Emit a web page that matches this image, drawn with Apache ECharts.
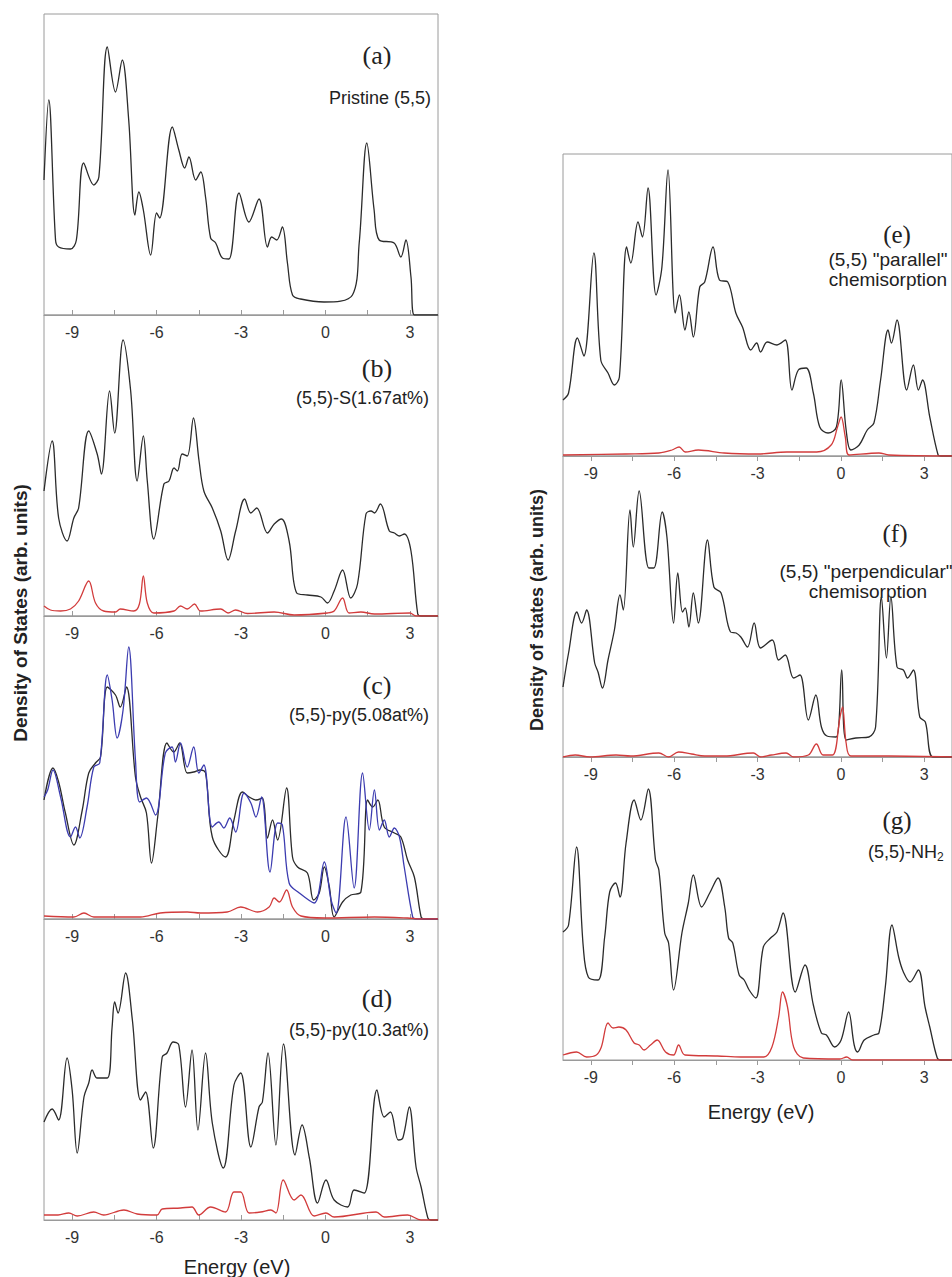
<!DOCTYPE html>
<html>
<head>
<meta charset="utf-8">
<script src="https://cdn.jsdelivr.net/npm/echarts@6/dist/echarts.min.js"></script>
<style>
html,body{margin:0;padding:0;background:#fff;}
#chart{width:952px;height:1277px;}
</style>
</head>
<body>
<div id="chart"></div>
<script>
// ---------- tick values ----------
const xMin = -10, xMax = 4;
const tickValues = [-9, -7.5, -6, -4.5, -3, -1.5, 0, 1.5, 3];
const labelValues = [-9, -6, -3, 0, 3];

// ---------- panel (a) Pristine ----------
const aBlack = [[-10,135],[-9.83,215],[-9.59,75],[-9.48,68],[-9.06,66],[-8.85,75],[-8.59,152],[-8.23,130],[-8.05,138],[-7.75,268],[-7.46,223],[-7.22,255],[-6.99,195],[-6.77,100],[-6.63,123],[-6.47,105],[-6.21,60],[-6.0,102],[-5.89,97],[-5.44,188],[-5.21,165],[-5.0,147],[-4.85,158],[-4.61,135],[-4.43,143],[-4.26,118],[-4.08,77],[-3.9,72],[-3.66,57],[-3.43,56],[-3.07,122],[-2.72,93],[-2.36,116],[-2.06,68],[-1.91,78],[-1.73,75],[-1.53,88],[-1.35,52],[-1.17,20],[-0.88,16],[-0.05,13],[0.96,20],[1.2,72],[1.47,172],[1.73,105],[1.91,75],[2.44,72],[2.68,58],[2.86,75],[3.04,38],[3.16,0],[4,0]];

// ---------- panel (b) S 1.67at% ----------
const bBlack = [[-10,125],[-9.71,175],[-9.48,98],[-9.18,75],[-8.94,98],[-8.77,108],[-8.41,185],[-8.11,162],[-7.96,142],[-7.67,225],[-7.49,183],[-7.19,276],[-6.92,225],[-6.69,135],[-6.47,180],[-6.33,135],[-6.1,77],[-5.74,132],[-5.56,135],[-5.38,148],[-5.26,145],[-5.09,162],[-4.91,160],[-4.69,198],[-4.49,155],[-4.32,125],[-4.02,108],[-3.72,85],[-3.46,56],[-3.19,85],[-2.87,117],[-2.65,103],[-2.44,108],[-2.06,83],[-1.82,92],[-1.56,97],[-1.29,75],[-1.02,23],[-0.64,21],[-0.16,19],[0.07,13],[0.31,25],[0.61,46],[0.9,18],[1.14,32],[1.44,102],[1.62,105],[1.74,103],[1.95,112],[2.27,85],[2.45,83],[2.63,80],[2.8,82],[3.04,65],[3.28,2],[3.4,0],[4,0]];
const bRed = [[-10,10],[-9.77,6],[-9.41,5],[-9.06,7],[-8.77,15],[-8.41,35],[-8.17,13],[-7.88,5],[-7.46,4],[-7.29,7],[-6.81,5],[-6.61,12],[-6.47,40],[-6.33,13],[-6.1,3],[-5.38,5],[-5.15,10],[-4.91,7],[-4.65,12],[-4.44,5],[-3.72,7],[-3.46,3],[-3.19,6],[-2.77,2.5],[-1.82,4],[-1.11,1],[0.07,3],[0.31,5],[0.61,18],[0.84,3],[1.26,4],[1.74,2],[3.0,3],[3.22,0],[4,0]];

// ---------- panel (c) py 5.08at% ----------
const cBlack = [[-10,119],[-9.68,151],[-9.48,137],[-9.24,106],[-8.94,74],[-8.64,109],[-8.41,146],[-8.17,156],[-7.99,162],[-7.75,232],[-7.46,224],[-7.29,212],[-7.07,232],[-6.75,142],[-6.57,122],[-6.36,106],[-6.18,56],[-5.96,102],[-5.63,176],[-5.39,167],[-5.18,176],[-4.91,146],[-4.68,147],[-4.46,149],[-4.26,146],[-4.02,82],[-3.55,62],[-3.25,99],[-2.95,127],[-2.71,122],[-2.47,119],[-2.24,121],[-2.06,81],[-1.88,99],[-1.70,79],[-1.38,131],[-1.17,62],[-0.99,52],[-0.64,46],[-0.42,19],[-0.22,26],[-0.04,52],[0.14,32],[0.31,2],[0.61,17],[0.9,24],[1.26,27],[1.5,119],[1.68,112],[1.86,119],[2.09,92],[2.45,86],[2.68,82],[2.92,59],[3.16,42],[3.4,2],[3.5,0],[4,0]];
const cBlue = [[-10,122],[-9.87,129],[-9.68,149],[-9.41,122],[-9.06,82],[-8.88,92],[-8.73,81],[-8.47,112],[-8.23,152],[-8.02,156],[-7.75,244],[-7.58,219],[-7.40,181],[-7.19,209],[-6.99,272],[-6.75,159],[-6.60,117],[-6.36,121],[-6.04,104],[-5.69,166],[-5.45,172],[-5.33,157],[-5.15,176],[-4.91,152],[-4.68,172],[-4.50,146],[-4.32,154],[-4.02,92],[-3.79,97],[-3.61,91],[-3.40,101],[-3.19,87],[-2.89,126],[-2.65,116],[-2.47,102],[-2.27,122],[-1.97,47],[-1.70,96],[-1.53,94],[-1.29,36],[-0.93,26],[-0.40,16],[-0.04,57],[0.20,19],[0.38,6],[0.73,102],[1.02,31],[1.32,146],[1.56,89],[1.74,129],[1.92,89],[2.09,99],[2.27,82],[2.45,91],[2.63,82],[2.80,52],[3.10,2],[3.2,0],[4,0]];
const cRed = [[-10,3],[-8.94,2],[-8.58,6],[-8.23,2],[-6.57,2],[-5.87,6],[-4.91,7],[-4.44,6],[-3.49,7],[-3.01,12],[-2.41,7],[-2.0,12],[-1.82,21],[-1.64,17],[-1.38,29],[-1.17,12],[-0.87,3],[-0.04,1],[1.74,2],[2.92,1],[3.4,0],[4,0]];

// ---------- panel (d) py 10.3at% ----------
const dBlack = [[-10,98],[-9.71,111],[-9.48,100],[-9.18,162],[-9.0,130],[-8.82,67],[-8.58,123],[-8.41,137],[-8.29,150],[-8.11,142],[-7.75,142],[-7.58,193],[-7.49,218],[-7.37,207],[-7.10,247],[-6.86,200],[-6.57,120],[-6.39,128],[-6.12,72],[-5.80,163],[-5.63,167],[-5.41,178],[-5.21,175],[-4.97,113],[-4.74,170],[-4.53,90],[-4.26,167],[-4.02,97],[-3.63,52],[-3.25,135],[-3.01,147],[-2.65,73],[-2.36,113],[-2.24,118],[-2.04,167],[-1.76,75],[-1.49,176],[-1.08,65],[-0.83,95],[-0.57,62],[-0.28,17],[0.02,40],[0.31,20],[0.79,13],[1.02,30],[1.38,27],[1.83,130],[2.09,103],[2.31,108],[2.59,80],[2.75,82],[2.98,113],[3.22,53],[3.40,33],[3.64,2],[3.75,0],[4,0]];
const dRed = [[-10,5],[-9.5,5],[-9.12,7],[-8.82,4],[-8.23,8],[-7.88,5],[-7.16,10],[-6.69,6],[-5.98,5],[-5.80,11],[-5.15,12],[-4.74,13],[-4.5,5],[-4.08,13],[-3.55,8],[-3.25,28],[-3.01,28],[-2.71,7],[-2.30,8],[-1.94,10],[-1.76,7],[-1.50,40],[-1.11,20],[-0.87,25],[-0.40,4],[0.02,7],[0.31,3],[1.80,8],[2.09,3],[2.92,5],[3.4,0],[4,0]];

// ---------- panel (e) parallel chemisorption ----------
const eBlack = [[-10,56],[-9.80,63],[-9.48,118],[-9.25,100],[-8.89,203],[-8.64,96],[-8.38,83],[-8.15,71],[-7.97,79],[-7.71,209],[-7.56,193],[-7.3,234],[-7.14,219],[-6.94,268],[-6.65,161],[-6.44,189],[-6.22,286],[-5.96,143],[-5.81,161],[-5.61,126],[-5.47,144],[-5.31,119],[-5.08,169],[-4.90,174],[-4.60,209],[-4.37,176],[-4.07,174],[-3.78,143],[-3.54,129],[-3.24,106],[-3.03,113],[-2.89,104],[-2.65,114],[-2.30,111],[-2.0,116],[-1.76,66],[-1.53,86],[-1.25,88],[-0.99,63],[-0.76,29],[-0.46,23],[-0.16,29],[0.01,76],[0.19,26],[0.36,6],[0.66,11],[0.95,26],[1.19,33],[1.43,76],[1.70,126],[1.82,113],[2.02,136],[2.37,66],[2.61,91],[2.79,66],[2.94,76],[3.20,39],[3.50,1],[3.6,0],[4,0]];
const eRed = [[-10,1],[-7.74,2],[-6.55,3],[-6.08,6],[-5.82,9],[-5.6,4],[-5.13,6],[-4.2,3],[-3.0,2],[-1.94,4],[-0.87,4],[-0.35,11],[-0.12,29],[0.01,39],[0.16,19],[0.30,1],[1.37,3],[1.73,1],[4,0]];

// ---------- panel (f) perpendicular chemisorption ----------
const fBlack = [[-10,70],[-9.8,104],[-9.5,145],[-9.33,134],[-9.15,147],[-8.86,94],[-8.74,85],[-8.58,69],[-8.38,97],[-8.15,127],[-7.95,162],[-7.83,147],[-7.59,247],[-7.47,210],[-7.26,266],[-6.91,189],[-6.73,189],[-6.43,245],[-6.26,220],[-6.02,134],[-5.87,184],[-5.70,145],[-5.6,149],[-5.47,130],[-5.31,164],[-5.13,134],[-4.80,217],[-4.57,170],[-4.31,164],[-3.97,125],[-3.77,124],[-3.60,120],[-3.36,110],[-3.12,134],[-2.89,109],[-2.47,117],[-2.24,97],[-2.00,102],[-1.70,79],[-1.47,82],[-1.17,37],[-0.90,62],[-0.70,30],[-0.50,21],[-0.17,20],[0.03,87],[0.19,17],[0.54,19],[1.01,20],[1.25,30],[1.46,160],[1.64,99],[1.80,160],[2.02,90],[2.25,87],[2.40,79],[2.61,87],[2.84,40],[3.04,35],[3.32,0],[4,0]];
const fRed = [[-10,0],[-9.56,2],[-9.03,0],[-8.09,2],[-7.56,1],[-6.55,4],[-6.2,0],[-5.84,5],[-5.37,3],[-4.9,1],[-4.2,1],[-3.15,4],[-2.89,0],[-2.5,2],[-1.97,4],[-1.70,0],[-1.17,2],[-0.88,13],[-0.64,2],[-0.30,2],[-0.03,40],[0.06,50],[0.19,14],[0.36,1],[1.73,1],[4,0]];

// ---------- panel (g) NH2 ----------
const gBlack = [[-10,128],[-9.8,135],[-9.51,213],[-9.27,113],[-9.09,83],[-8.74,80],[-8.5,123],[-8.32,168],[-8.11,177],[-7.95,163],[-7.73,217],[-7.44,260],[-7.2,240],[-6.93,271],[-6.67,200],[-6.55,190],[-6.34,127],[-6.20,117],[-6.02,70],[-5.72,127],[-5.49,157],[-5.31,185],[-5.01,153],[-4.72,167],[-4.42,182],[-4.18,153],[-4.04,122],[-3.89,117],[-3.66,85],[-3.48,80],[-3.30,70],[-3.06,62],[-2.79,113],[-2.53,122],[-2.30,128],[-2.08,147],[-1.64,68],[-1.29,95],[-0.99,55],[-0.70,27],[-0.52,25],[-0.22,13],[0.01,20],[0.28,48],[0.48,15],[0.60,8],[0.84,20],[1.19,25],[1.37,27],[1.60,73],[1.84,135],[2.08,103],[2.25,88],[2.49,78],[2.79,90],[3.03,53],[3.20,33],[3.47,2],[3.6,0],[4,0]];
const gRed = [[-10,5],[-9.51,8],[-9.15,3],[-8.8,5],[-8.62,13],[-8.38,37],[-8.20,32],[-7.99,33],[-7.73,30],[-7.44,17],[-7.26,15],[-7.08,10],[-6.85,15],[-6.61,20],[-6.31,8],[-6.02,5],[-5.84,15],[-5.61,5],[-4.44,4],[-3.6,3],[-2.77,3],[-2.48,13],[-2.24,43],[-2.10,68],[-1.92,53],[-1.70,13],[-1.35,2],[-0.04,1],[0.21,3],[0.42,0],[4,0]];

// ---------- text ----------
const yTitleLeft = 'Density of States (arb. units)';
const yTitleRight = 'Density of states (arb. units)';
const xTitle = 'Energy (eV)';

const BLACK = '#2b2b2b', RED = '#d23c3c', BLUE = '#3c3cb0', FRAME = '#9a9a9a';
const SANS = '"Liberation Sans", Arial, sans-serif';
const SERIF = '"Liberation Serif", "Times New Roman", serif';

// panel layout: left, top, height, ticks inside?
const panels = [
  {left:44, top:14, height:301, inside:true, series:[[aBlack,BLACK]]},
  {left:44, top:315, height:301, inside:true, series:[[bBlack,BLACK],[bRed,RED]]},
  {left:44, top:616, height:303, inside:true, series:[[cBlack,BLACK],[cBlue,BLUE],[cRed,RED]]},
  {left:44, top:919, height:301, inside:true, series:[[dBlack,BLACK],[dRed,RED]]},
  {left:563, top:154, height:302, inside:false, series:[[eBlack,BLACK],[eRed,RED]]},
  {left:563, top:456, height:301, inside:false, series:[[fBlack,BLACK],[fRed,RED]]},
  {left:563, top:757, height:303, inside:false, series:[[gBlack,BLACK],[gRed,RED]]}
];

const grid = [], xAxis = [], yAxis = [], series = [];
panels.forEach((p, i) => {
  grid.push({left:p.left, top:p.top, width:394, height:p.height, show:true,
    borderColor:FRAME, borderWidth:1, backgroundColor:'transparent', containLabel:false});
  xAxis.push({type:'value', gridIndex:i, min:xMin, max:xMax,
    axisLine:{show:true, onZero:false, lineStyle:{color:FRAME, width:1}},
    axisTick:{show:true, inside:p.inside, length:5, customValues:tickValues, lineStyle:{color:FRAME}},
    axisLabel:{show:true, customValues:labelValues, margin:9, color:'#333', fontSize:16, fontFamily:SANS},
    splitLine:{show:false}});
  yAxis.push({type:'value', gridIndex:i, min:0, max:p.height,
    axisLine:{show:false, onZero:false}, axisTick:{show:false},
    axisLabel:{show:false}, splitLine:{show:false}});
  p.series.forEach(([data, color]) => {
    series.push({type:'line', xAxisIndex:i, yAxisIndex:i, data:data, showSymbol:false,
      smooth:0.35, clip:true, silent:true,
      lineStyle:{color:color, width:1.3}});
  });
});

function txt(x, y, text, font, align, extra) {
  return Object.assign({type:'text', x:x, y:y, silent:true,
    style:{text:text, font:font, fill:'#222', textAlign:align||'center', textVerticalAlign:'middle'}}, extra||{});
}

const graphic = [
  txt(377, 55, '(a)', '26px ' + SERIF),
  txt(431, 98, 'Pristine (5,5)', '18px ' + SANS, 'right'),
  txt(377, 368, '(b)', '26px ' + SERIF),
  txt(429, 398, '(5,5)-S(1.67at%)', '18px ' + SANS, 'right'),
  txt(377, 685, '(c)', '26px ' + SERIF),
  txt(429, 715, '(5,5)-py(5.08at%)', '18px ' + SANS, 'right'),
  txt(377, 998, '(d)', '26px ' + SERIF),
  txt(429, 1030, '(5,5)-py(10.3at%)', '18px ' + SANS, 'right'),
  txt(897, 234, '(e)', '25px ' + SERIF),
  txt(888, 259, '(5,5) "parallel"', '19px ' + SANS),
  txt(888, 279, 'chemisorption', '19px ' + SANS),
  txt(895, 533, '(f)', '25px ' + SERIF),
  txt(866, 571, '(5,5) "perpendicular"', '19px ' + SANS),
  txt(868, 591, 'chemisorption', '19px ' + SANS),
  txt(897, 820, '(g)', '25px ' + SERIF),
  {type:'text', x:868, y:852, silent:true,
    style:{text:'(5,5)-NH{sub|2}', font:'18px ' + SANS, fill:'#222', textAlign:'left', textVerticalAlign:'middle',
      rich:{sub:{fontSize:12, fontFamily:SANS, fill:'#222', padding:[10,0,0,0]}}}},
  txt(237, 1267, xTitle, '20px ' + SANS),
  txt(761, 1112, xTitle, '20px ' + SANS),
  {type:'text', x:20, y:613, rotation:Math.PI/2, silent:true,
    style:{text:yTitleLeft, font:'bold 19px ' + SANS, fill:'#222', textAlign:'center', textVerticalAlign:'middle'}},
  {type:'text', x:537, y:610, rotation:Math.PI/2, silent:true,
    style:{text:yTitleRight, font:'bold 18px ' + SANS, fill:'#222', textAlign:'center', textVerticalAlign:'middle'}}
];

const chart = echarts.init(document.getElementById('chart'), null, {renderer:'svg'});
chart.setOption({animation:false, backgroundColor:'#fff', grid, xAxis, yAxis, series, graphic});
</script>
</body>
</html>
